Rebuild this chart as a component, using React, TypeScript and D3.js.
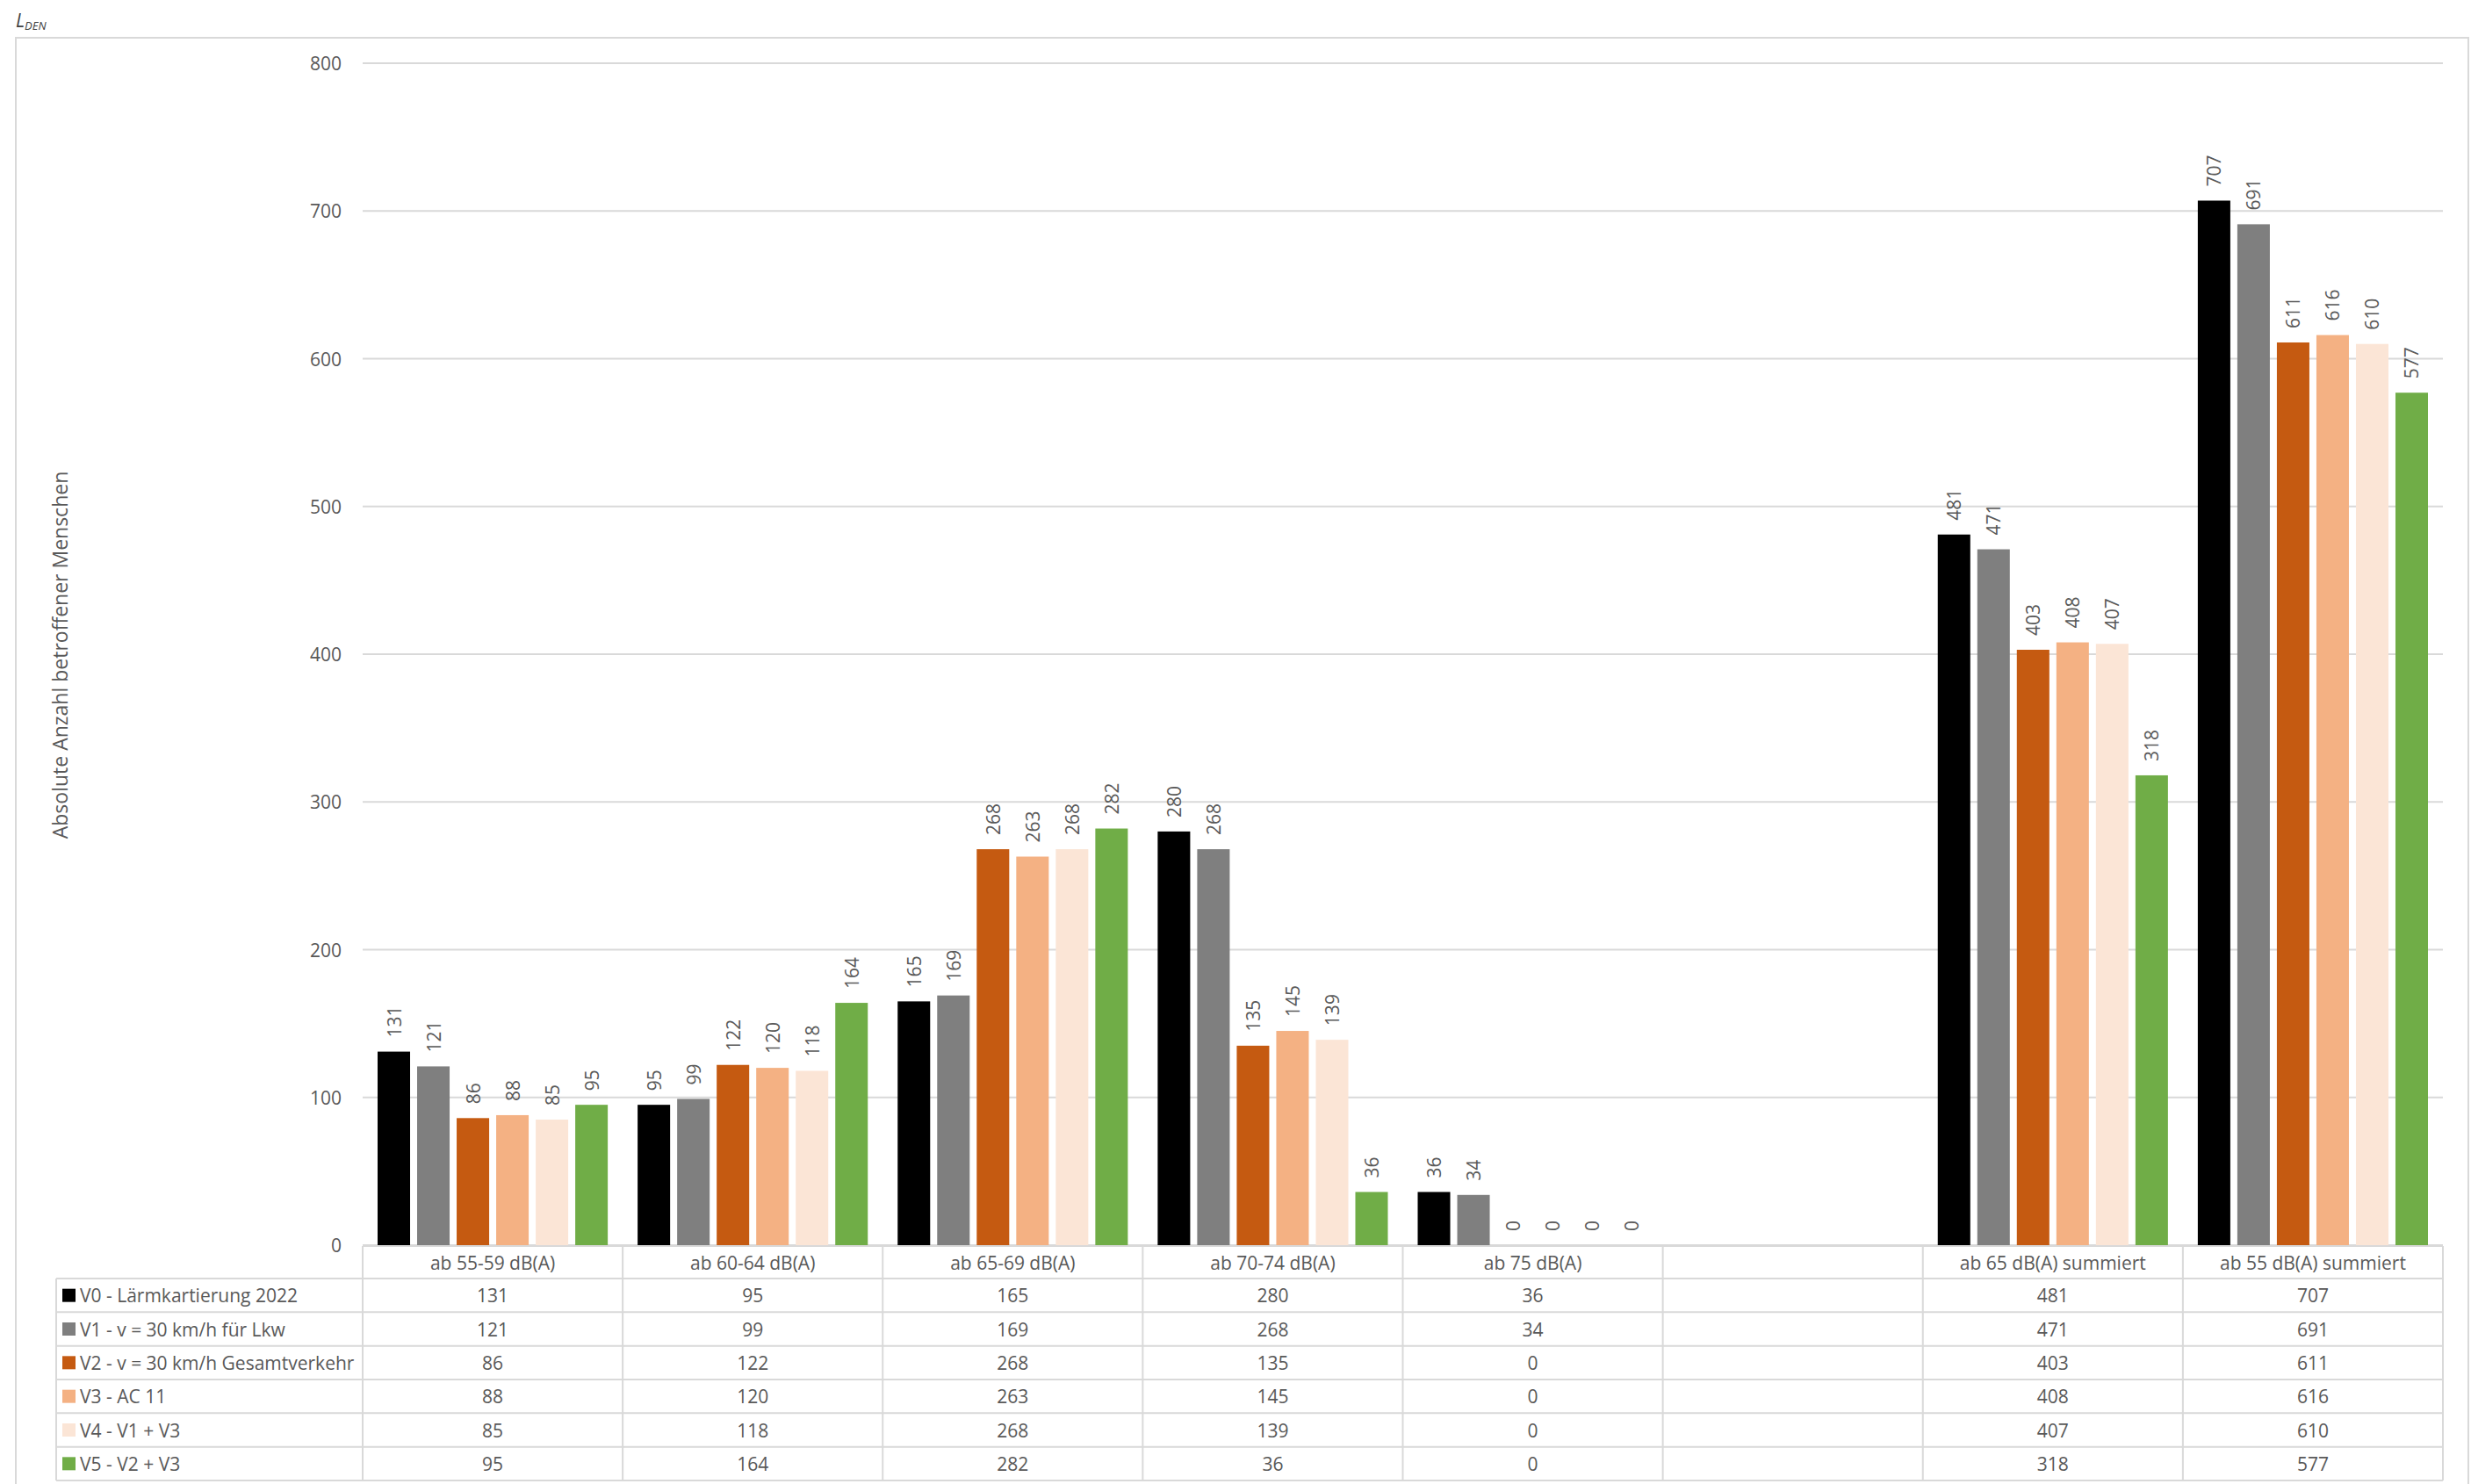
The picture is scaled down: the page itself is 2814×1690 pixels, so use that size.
import React from "react";
import * as d3 from "d3";

const categories = [
  "ab 55-59 dB(A)",
  "ab 60-64 dB(A)",
  "ab 65-69 dB(A)",
  "ab 70-74 dB(A)",
  "ab 75 dB(A)",
  "",
  "ab 65 dB(A) summiert",
  "ab 55 dB(A) summiert",
];

const seriesNames = [
  "V0 - Lärmkartierung 2022",
  "V1 - v = 30 km/h für Lkw",
  "V2 - v = 30 km/h Gesamtverkehr",
  "V3 - AC 11",
  "V4 - V1 + V3",
  "V5 - V2 + V3",
];

const seriesColors = ["#000000", "#7F7F7F", "#C55A11", "#F4B183", "#FBE5D6", "#70AD47"];

const V0 = [131, 95, 165, 280, 36, null, 481, 707];
const V1 = [121, 99, 169, 268, 34, null, 471, 691];
const V2 = [86, 122, 268, 135, 0, null, 403, 611];
const V3 = [88, 120, 263, 145, 0, null, 408, 616];
const V4 = [85, 118, 268, 139, 0, null, 407, 610];
const V5 = [95, 164, 282, 36, 0, null, 318, 577];

const seriesValues: (number | null)[][] = [V0, V1, V2, V3, V4, V5];

const yTicks = [0, 100, 200, 300, 400, 500, 600, 700, 800];

const W = 2814;
const H = 1690;
const FONT = "'Open Sans', 'Noto Sans', sans-serif";
const TEXT = "#595959";
const LINE = "#D9D9D9";

export default function App() {
  const plotLeft = 413;
  const plotRight = 2782;
  const y = d3.scaleLinear().domain([0, 800]).range([1418, 72]);
  const x = d3.scaleBand<string>()
    .domain(categories.map((_, i) => String(i)))
    .range([plotLeft, plotRight])
    .padding(0);
  const bw = x.bandwidth();
  const inner = d3.scaleBand<string>()
    .domain(seriesNames)
    .range([17, bw - 17])
    .paddingInner(8 / 45)
    .paddingOuter(0);

  const tableTop = 1419;
  const headerBottom = 1456;
  const rowH = (1686 - headerBottom) / seriesNames.length;
  const tableBottom = headerBottom + rowH * seriesNames.length;
  const legendLeft = 64;

  return (
    <div style={{ position: "absolute", left: 0, top: 0 }}>
      <svg width={W} height={H} style={{ display: "block", background: "#fff" }} fontFamily={FONT}>
        <rect x={0} y={0} width={W} height={H} fill="#fff" />
        {/* title L_DEN */}
        <text x={18} y={31} fill="#404040" fontStyle="italic" fontSize={21}>
          L<tspan fontSize={13} dy={3}>DEN</tspan>
        </text>
        {/* chart frame */}
        <rect x={18} y={43} width={2793} height={1700} fill="none" stroke={LINE} strokeWidth={2} />

        {/* gridlines & y ticks */}
        {yTicks.map((t) => (
          <g key={t}>
            <line x1={plotLeft} x2={plotRight} y1={y(t)} y2={y(t)} stroke={LINE} strokeWidth={2} />
            <text x={389} y={y(t)} textAnchor="end" dominantBaseline="central" fontSize={21} fill={TEXT}>
              {t}
            </text>
          </g>
        ))}

        {/* y axis title */}
        <text
          transform={`translate(68,746) rotate(-90)`}
          textAnchor="middle"
          dominantBaseline="central"
          fontSize={23}
          fill={TEXT}
        >
          Absolute Anzahl betroffener Menschen
        </text>

        {/* bars */}
        {categories.map((c, ci) =>
          seriesNames.map((s, si) => {
            const v = seriesValues[si][ci];
            if (v === null || v === undefined) return null;
            const bx = (x(String(ci)) as number) + (inner(s) as number);
            const by = y(v);
            const bh = y(0) - y(v);
            const cx = bx + inner.bandwidth() / 2;
            return (
              <g key={`${ci}-${si}`}>
                {bh > 0 && (
                  <rect x={bx} y={by} width={inner.bandwidth()} height={bh} fill={seriesColors[si]} />
                )}
                <text
                  transform={`translate(${cx},${by - 16}) rotate(-90)`}
                  textAnchor="start"
                  dominantBaseline="central"
                  fontSize={21}
                  fill={TEXT}
                >
                  {v}
                </text>
              </g>
            );
          })
        )}

        {/* data table */}
        <g>
          <line x1={plotLeft} x2={plotRight} y1={tableTop} y2={tableTop} stroke={LINE} strokeWidth={2} />
          {d3.range(seriesNames.length + 1).map((r) => (
            <line
              key={`h${r}`}
              x1={legendLeft}
              x2={plotRight}
              y1={headerBottom + r * rowH}
              y2={headerBottom + r * rowH}
              stroke={LINE}
              strokeWidth={2}
            />
          ))}
          <line x1={legendLeft} x2={legendLeft} y1={headerBottom} y2={tableBottom} stroke={LINE} strokeWidth={2} />
          {d3.range(categories.length + 1).map((i) => (
            <line
              key={`v${i}`}
              x1={plotLeft + i * bw}
              x2={plotLeft + i * bw}
              y1={tableTop}
              y2={tableBottom}
              stroke={LINE}
              strokeWidth={2}
            />
          ))}
          {categories.map((c, ci) => (
            <text
              key={`c${ci}`}
              x={(x(String(ci)) as number) + bw / 2}
              y={(tableTop + headerBottom) / 2}
              textAnchor="middle"
              dominantBaseline="central"
              fontSize={21}
              fill={TEXT}
            >
              {c}
            </text>
          ))}
          {seriesNames.map((s, si) => {
            const cy = headerBottom + (si + 0.5) * rowH;
            return (
              <g key={`r${si}`}>
                <rect x={71} y={cy - 7.5} width={15} height={15} fill={seriesColors[si]} />
                <text x={91} y={cy} dominantBaseline="central" fontSize={21} fill={TEXT}>
                  {s}
                </text>
                {categories.map((c, ci) => {
                  const v = seriesValues[si][ci];
                  if (v === null || v === undefined) return null;
                  return (
                    <text
                      key={`t${ci}`}
                      x={(x(String(ci)) as number) + bw / 2}
                      y={cy}
                      textAnchor="middle"
                      dominantBaseline="central"
                      fontSize={21}
                      fill={TEXT}
                    >
                      {v}
                    </text>
                  );
                })}
              </g>
            );
          })}
        </g>
      </svg>
    </div>
  );
}
